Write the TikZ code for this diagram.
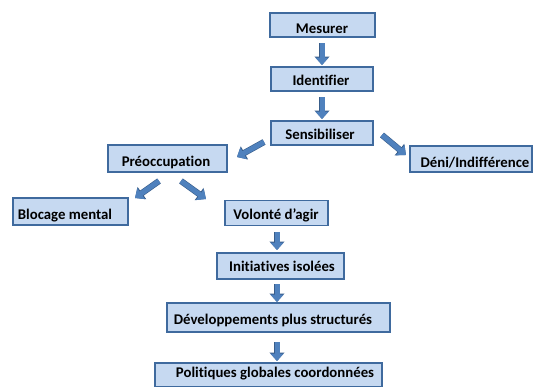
\documentclass[tikz,border=0pt]{standalone}
\usepackage{fontspec}
\setmainfont{Carlito}[Ligatures=NoCommon]
\usetikzlibrary{arrows.meta,calc}
\definecolor{boxfill}{HTML}{C6D9F1}
\definecolor{boxedge}{HTML}{3F6A9E}
\definecolor{arrfill}{HTML}{4F81BD}
\definecolor{arredge}{HTML}{385D8A}
\tikzset{
  box/.style={draw=boxedge, fill=boxfill, line width=1.3pt, inner sep=0pt},
  txt/.style={font=\bfseries\fontsize{14.8}{16}\selectfont, anchor=base, inner sep=0pt},
  barrow/.style={draw=arrfill, line width=5pt, -{Triangle[length=7.5pt,width=13pt]},
    preaction={draw=arredge, line width=6.2pt, -{Triangle[length=8.5pt,width=14.5pt]}}}
}
\begin{document}
\begin{tikzpicture}[x=1pt,y=-1pt]
\useasboundingbox (0,0) rectangle (536,386);
% boxes: centre, width, height
\node[box, minimum width=105pt, minimum height=24pt] (mes) at (322.5,25) {};
\node[box, minimum width=102pt, minimum height=24pt] (ide) at (322,79) {};
\node[box, minimum width=102pt, minimum height=24pt] (sen) at (322,133) {};
\node[box, minimum width=119pt, minimum height=27pt] (pre) at (167.5,158.5) {};
\node[box, minimum width=122pt, minimum height=26pt] (den) at (471,159) {};
\node[box, minimum width=115pt, minimum height=27pt] (blo) at (70.5,211.5) {};
\node[box, minimum width=103pt, minimum height=25pt] (vol) at (276.5,213) {};
\node[box, minimum width=127pt, minimum height=26pt] (ini) at (280.5,266) {};
\node[box, minimum width=223pt, minimum height=29pt] (dev) at (278.5,317.5) {};
\node[box, minimum width=227pt, minimum height=24pt] (pol) at (268.5,375) {};
% texts
\node[txt] at (322,33) {Mesurer};
\node[txt] at (321,85.5) {Identifier};
\node[txt] at (320,139) {Sensibiliser};
\node[txt] at (166,166.5) {Préoccupation};
\node[txt] at (475,167.5) {Déni/Indifférence};
\node[txt] at (65,219.5) {Blocage mental};
\node[txt] at (276,219.5) {Volonté d’agir};
\node[txt] at (282,271.5) {Initiatives isolées};
\node[txt] at (273,324.5) {Développements plus structurés};
\node[txt] at (275,377.5) {Politiques globales coordonnées};
% arrow ends
\coordinate (a1) at (322,43);   \coordinate (b1) at (322,65);
\coordinate (a2) at (322,97);   \coordinate (b2) at (322,119);
\coordinate (a3) at (264,142);  \coordinate (b3) at (237,157);
\coordinate (a4) at (382,135);  \coordinate (b4) at (406,155);
\coordinate (a5) at (159,181);  \coordinate (b5) at (135,198);
\coordinate (a6) at (181,181);  \coordinate (b6) at (206,199);
\coordinate (a7) at (277,232);  \coordinate (b7) at (277,250);
\coordinate (a8) at (277,284);  \coordinate (b8) at (277,302);
\coordinate (a9) at (277,342);  \coordinate (b9) at (277,361);
\foreach \i in {1,...,9} { \draw[barrow] (a\i) -- (b\i); }
\end{tikzpicture}
\end{document}
